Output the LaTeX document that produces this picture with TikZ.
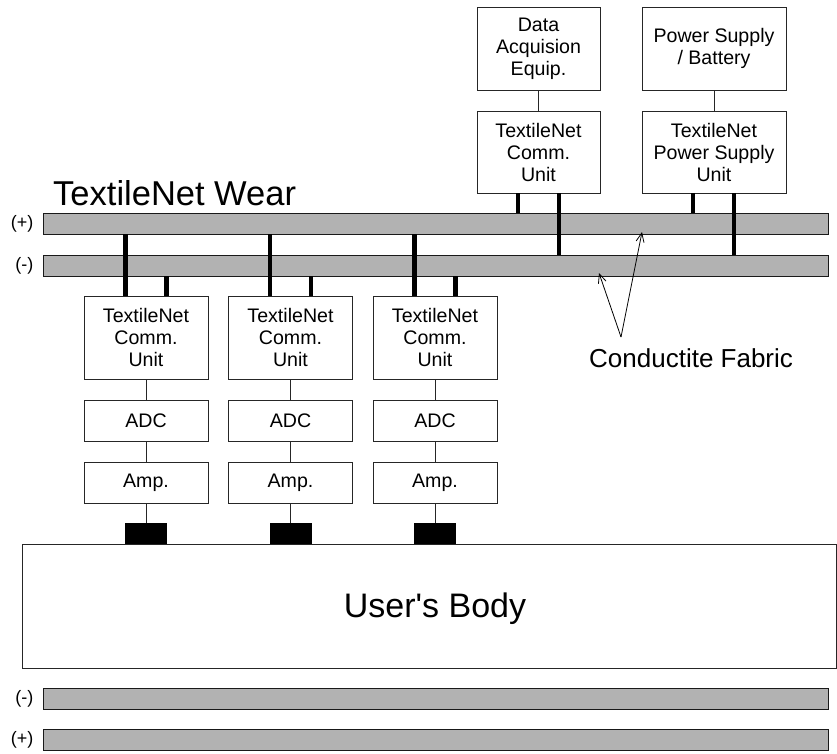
\documentclass[tikz,border=0pt]{standalone}
\usepackage{fontspec}
\setmainfont{Liberation Sans}[Ligatures=TeXOff]
\usetikzlibrary{arrows.meta}
\begin{document}
\begin{tikzpicture}[x=1pt,y=-1pt,
  box/.style={draw=black!85, line width=0.9pt, fill=white, align=center, inner sep=0pt,
    minimum width=124pt, minimum height=83pt, font=\fontsize{19.6}{22}\selectfont},
  smallbox/.style={box, minimum height=41pt},
  bar/.style={draw=black!90, line width=0.9pt, fill=black!30, inner sep=0pt,
    minimum width=785pt, minimum height=21pt},
  sign/.style={anchor=east, inner sep=0pt, font=\fontsize{18}{20}\selectfont},
  pad/.style={fill=black, inner sep=0pt, minimum width=42pt, minimum height=21pt},
  bus/.style={line width=4.8pt, black},
  thinline/.style={draw=black!85, line width=0.9pt},
  pointer/.style={draw=black, line width=0.8pt, -{Straight Barb[length=9pt,width=8pt]}}]
\useasboundingbox (0,0) rectangle (837,753);

% bars
\node[bar] (pbar) at (435.5,223.5) {};
\node[bar] (nbar) at (435.5,265.5) {};
\node[bar] (bnbar) at (435.5,698.5) {};
\node[bar] (bpbar) at (435.5,739.5) {};
\node[sign] (lp) at (33.5,224) {(+)};
\node[sign] (ln) at (33.5,265.5) {(-)};
\node[sign] (lbn) at (33.5,699) {(-)};
\node[sign] (lbp) at (33.5,740) {(+)};

% title
\node[anchor=base west, inner sep=0pt, font=\fontsize{34.5}{40}\selectfont] (title) at (53,205) {TextileNet Wear};

% body
\node[draw=black!85, line width=0.9pt, inner sep=0pt, minimum width=814pt, minimum height=124pt] (body) at (429,606) {};
\node[anchor=base, inner sep=0pt, font=\fontsize{34}{40}\selectfont] (bodylabel) at (435,617) {User's Body};

% bottom units
\foreach \i/\cx in {1/146,2/290.5,3/435}{
  \node[box] (cu\i) at (\cx,337.5) {TextileNet\\Comm.\\Unit};
  \node[smallbox] (adc\i) at (\cx,420.5) {ADC};
  \node[smallbox] (amp\i) at (\cx,482.5) {Amp.};
  \node[pad] (pad\i) at (\cx,533.5) {};
  \draw[thinline] (cu\i) -- (adc\i);
  \draw[thinline] (adc\i) -- (amp\i);
  \draw[thinline] (amp\i) -- (pad\i);
  \draw[bus] ([xshift=-20.5pt]cu\i.north) -- ([xshift=-20.5pt]cu\i.north |- pbar.south);
  \draw[bus] ([xshift=20.5pt]cu\i.north) -- ([xshift=20.5pt]cu\i.north |- nbar.south);
}

% top units
\node[box, minimum width=123pt] (dae) at (538.5,48.5) {Data\\Acquision\\Equip.};
\node[box, minimum width=123pt, minimum height=82pt] (tcu) at (538.5,152) {TextileNet\\Comm.\\Unit};
\node[box, minimum width=144pt] (psb) at (714,48.5) {Power Supply\\/ Battery};
\node[box, minimum width=144pt, minimum height=82pt] (psu) at (714,152) {TextileNet\\Power Supply\\Unit};
\draw[thinline] (dae) -- (tcu);
\draw[thinline] (psb) -- (psu);
\draw[bus] ([xshift=-20.5pt]tcu.south) -- ([xshift=-20.5pt]tcu.south |- pbar.north);
\draw[bus] ([xshift=20.5pt]tcu.south) -- ([xshift=20.5pt]tcu.south |- nbar.north);
\draw[bus] ([xshift=-21pt]psu.south) -- ([xshift=-21pt]psu.south |- pbar.north);
\draw[bus] ([xshift=20pt]psu.south) -- ([xshift=20pt]psu.south |- nbar.north);

% conductive fabric label
\node[anchor=base west, inner sep=0pt, font=\fontsize{26}{30}\selectfont] (fablabel) at (589,367) {Conductite Fabric};
\coordinate (fab) at (621,337);
\coordinate (ptarget) at (642,232);
\coordinate (ntarget) at (599,273);
\draw[pointer] (fab) -- (ptarget);
\draw[pointer] (fab) -- (ntarget);
\end{tikzpicture}
\end{document}
